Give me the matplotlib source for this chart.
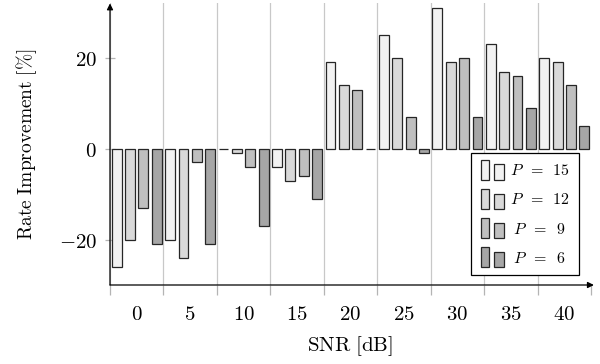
import matplotlib

matplotlib.use("Agg")
import matplotlib.pyplot as plt
import numpy as np
from matplotlib.legend_handler import HandlerBase
from matplotlib.patches import Patch, Rectangle

plt.rcParams["mathtext.fontset"] = "cm"

# rate improvement [%] per SNR, one list per number of P
snr = [0, 5, 10, 15, 20, 25, 30, 35, 40]
p_values = [15, 12, 9, 6]
improvement = {
    15: [-26, -20, 0, -4, 19, 25, 31, 23, 20],
    12: [-20, -24, -1, -7, 14, 20, 19, 17, 19],
    9: [-13, -3, -4, -6, 13, 7, 20, 16, 14],
    6: [-21, -21, -17, -11, 0, -1, 7, 9, 5],
}
y_ticks = [-20, 0, 20]

colors = ["#f2f2f2", "#d9d9d9", "#bfbfbf", "#a6a6a6"]
edge = "#262626"


class TwoBarHandler(HandlerBase):
    # pgfplots-style ybar legend image: two small bars on a common baseline
    def create_artists(self, legend, orig_handle, xdescent, ydescent,
                       width, height, fontsize, trans):
        fc = orig_handle.get_facecolor()
        x0, y0 = -xdescent, -ydescent - 0.2 * height
        w1, w2 = 0.38 * width, 0.44 * width
        tall = Rectangle((x0, y0), w1, 1.4 * height, facecolor=fc,
                         edgecolor=edge, lw=0.9, transform=trans)
        short = Rectangle((x0 + 0.56 * width, y0), w2, 1.07 * height, facecolor=fc,
                          edgecolor=edge, lw=0.9, transform=trans)
        return [tall, short]


fig = plt.figure(figsize=(6, 3.64), dpi=100)
ax = fig.add_axes([110 / 600, 1 - 285 / 364, 481 / 600, 281.6 / 364])

offsets = [-1.875, -0.625, 0.625, 1.875]
x = np.array(snr, dtype=float)
for i, p in enumerate(p_values):
    ax.bar(x + offsets[i], improvement[p], width=0.92, color=colors[i],
           edgecolor=edge, linewidth=0.9, zorder=3)

ax.set_xlim(-2.5, 42.5)
ax.set_ylim(-30, 32)

# vertical separators between SNR groups
minor = np.arange(-2.5, 43, 5)
for m in minor[:-1]:
    ax.axvline(m, color="#c8c8c8", lw=0.9, zorder=1)

ax.set_xticks(snr)
ax.set_xticklabels([f"${s}$" for s in snr], fontsize=15)
ax.set_xticks(minor, minor=True)
ax.tick_params(axis="x", which="major", length=0, pad=14)
ax.tick_params(axis="x", which="minor", length=7, color="#b4b4b4", width=0.9, direction="out")

ax.set_yticks(y_ticks)
ax.set_yticklabels([f"${v}$" for v in y_ticks], fontsize=15)
ax.tick_params(axis="y", length=7, color="#b4b4b4", width=0.9, direction="inout", pad=6)

for side in ["top", "right", "left", "bottom"]:
    ax.spines[side].set_visible(False)

arrow = dict(arrowstyle="-|>", lw=0.9, color="black", mutation_scale=9, shrinkA=0, shrinkB=0)
ax.annotate("", xy=(0, 1.0), xytext=(0, 0), xycoords="axes fraction", arrowprops=arrow, zorder=5)
ax.annotate("", xy=(1.006, 0), xytext=(0, 0), xycoords="axes fraction", arrowprops=arrow, zorder=5)

ax.set_xlabel(r"$\mathrm{SNR\ [dB]}$", fontsize=15, labelpad=7)
ax.set_ylabel(r"$\mathrm{Rate\ Improvement\ [\%]}$", fontsize=14, labelpad=14)

handles = [Patch(facecolor=c) for c in colors]
labels = [r"$P\enspace=\enspace15$", r"$P\enspace=\enspace12$",
          r"$\;P\enspace=\enspace9$", r"$\;P\enspace=\enspace6$"]
leg = ax.legend(handles, labels, handler_map={Patch: TwoBarHandler()},
                loc="upper left", bbox_to_anchor=(471 / 600, 1 - 153 / 364),
                bbox_transform=fig.transFigure, borderaxespad=0,
                fontsize=11.5, handlelength=1.45, handleheight=1.0, labelspacing=0.85,
                handletextpad=0.4, borderpad=0.6, fancybox=False, framealpha=1)
leg.get_frame().set_edgecolor("black")
leg.get_frame().set_linewidth(0.9)
leg.set_zorder(6)

fig.savefig("out.png", dpi=100)
